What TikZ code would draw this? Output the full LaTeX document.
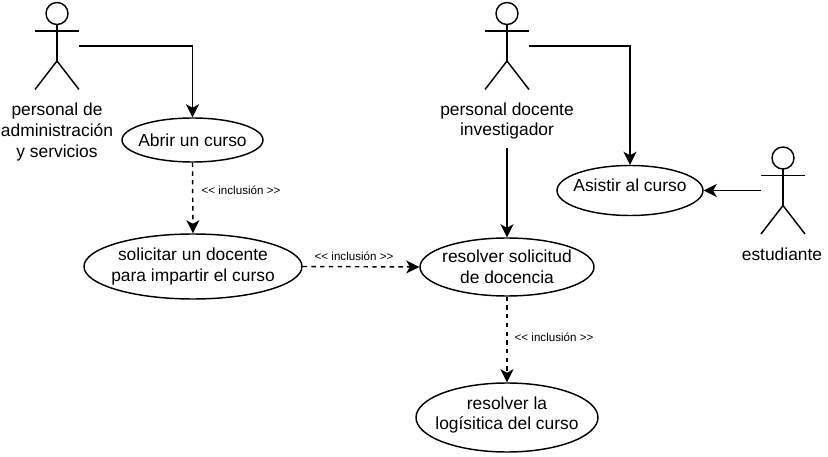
\documentclass[tikz,border=0pt]{standalone}
\usepackage{fontspec}
\setmainfont{Liberation Sans}
\usetikzlibrary{arrows.meta,shapes.geometric}

\begin{document}
\begin{tikzpicture}[
  x=1pt,y=-1pt,line width=1.45pt,
  font=\fontsize{17.4}{20.6}\selectfont,
  usecase/.style={draw,ellipse,align=center,inner sep=-30pt},
  caption/.style={align=center,inner sep=0pt},
  inclusion/.style={font=\fontsize{11.6}{14}\selectfont,inner sep=0pt},
  actor/.style={minimum width=44pt,minimum height=87pt,inner sep=0pt,outer sep=0pt},
  flow/.style={-{Stealth[length=13pt,width=13pt,inset=3.5pt]}},
  include/.style={flow,dash pattern=on 4.35pt off 4.35pt}
]
  \useasboundingbox (0,0) rectangle (828,457);

  \foreach \name/\x/\y in {admin/57/46,docente/507/46,estudiante/783/190.5} {
    \node[actor] (\name) at (\x,\y) {};
    \node[draw,circle,minimum size=22pt,inner sep=0pt,outer sep=0pt,anchor=north]
      (\name-head) at (\name.north) {};
    \draw (\name-head.south) -- ++(0,36.5) coordinate (\name-hip);
    \draw (\name.west |- \name-head.south) ++(0,6.5) -- ++(44,0);
    \draw (\name.south west) -- (\name-hip) -- (\name.south east);
  }

  \node[caption] (admin-text) at (57,132)
    {personal de\\administración\\y servicios};
  \node[caption] (docente-text) at (507,121)
    {personal docente\\investigador};
  \node[caption] (estudiante-text) at (782,254) {estudiante};

  \node[usecase,minimum width=141pt,minimum height=44pt] (abrir) at (192.5,140)
    {Abrir un curso};
  \node[usecase,minimum width=218pt,minimum height=65pt] (solicitar) at (193,266.5)
    {solicitar un docente\\para impartir el curso};
  \node[usecase,minimum width=174pt,minimum height=58pt] (resolver) at (507,267)
    {resolver solicitud\\de docencia};
  \node[usecase,minimum width=146pt,minimum height=50pt,text depth=11pt] (asistir) at (630,190.5)
    {Asistir al curso};
  \node[usecase,minimum width=182pt,minimum height=69pt,text depth=9pt] (logistica) at (507,417.5)
    {resolver la\\logísitica del curso};

  \node[inclusion] (inc-abrir) at (241,190.5) {<{}< inclusión >{}>};
  \node[inclusion] (inc-solicitar) at (354,256.5) {<{}< inclusión >{}>};
  \node[inclusion] (inc-resolver) at (554,337.5) {<{}< inclusión >{}>};

  \draw[flow] (admin.east) -| (abrir.north);
  \draw[flow] (docente.east) -| (asistir.north);
  \draw[flow] (estudiante.west) -- (asistir.east);
  \draw[flow] (docente-text.south) ++(0,8) coordinate (docente-out) -- (resolver.north);
  \draw[include] (abrir.south) -- (solicitar.north);
  \draw[include] (solicitar.east) -- (resolver.west);
  \draw[include] (resolver.south) -- (logistica.north);
\end{tikzpicture}
\end{document}
